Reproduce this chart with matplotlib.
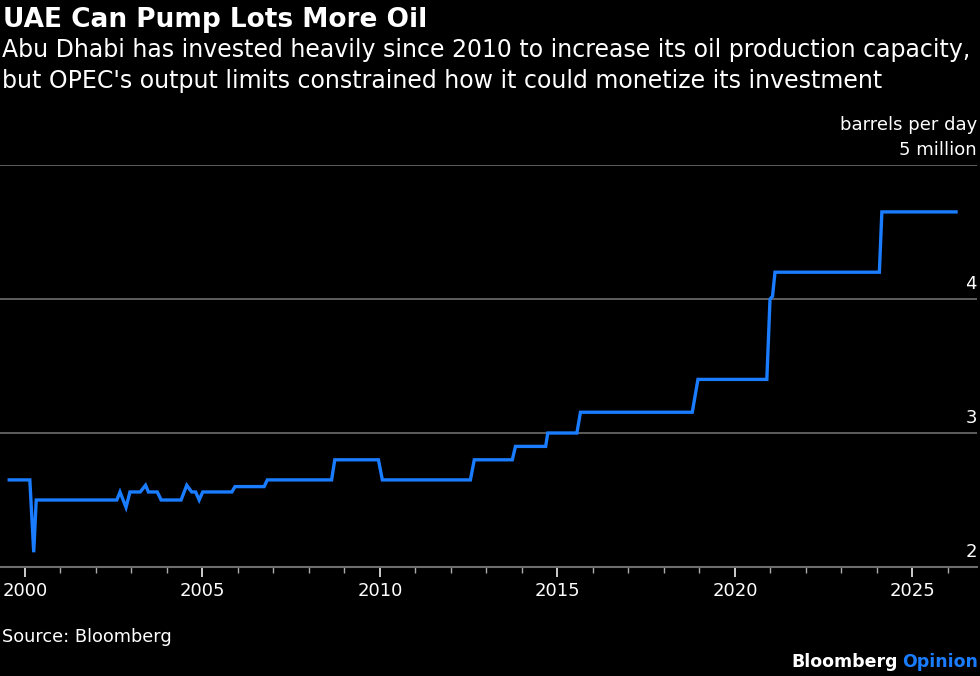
import matplotlib.pyplot as plt
import matplotlib.transforms as mtransforms
from matplotlib.ticker import MultipleLocator

# corner points of the capacity line (year, million barrels per day)
years = [1999.56, 2000.14, 2000.25, 2000.32, 2002.59, 2002.68, 2002.85, 2002.96,
         2003.25, 2003.40, 2003.48, 2003.73, 2003.84, 2004.40, 2004.56, 2004.70,
         2004.81, 2004.91, 2005.01, 2005.83, 2005.92, 2006.74, 2006.83, 2008.64,
         2008.73, 2009.96, 2010.07, 2012.55, 2012.66, 2013.73, 2013.82, 2014.67,
         2014.73, 2015.55, 2015.65, 2018.80, 2018.96, 2020.90, 2020.99, 2021.06,
         2021.13, 2024.07, 2024.14, 2026.23]
capacity = [2.65, 2.65, 2.11, 2.50, 2.50, 2.56, 2.445, 2.56,
            2.56, 2.61, 2.56, 2.56, 2.50, 2.50, 2.61, 2.56,
            2.56, 2.50, 2.56, 2.56, 2.60, 2.60, 2.65, 2.65,
            2.80, 2.80, 2.65, 2.65, 2.80, 2.80, 2.90, 2.90,
            3.00, 3.00, 3.155, 3.155, 3.40, 3.40, 4.00, 4.02,
            4.20, 4.20, 4.65, 4.65]

y_ticks = [2, 3, 4, 5]
y_labels = ['2', '3', '4', '5 million']
x_ticks = [2000, 2005, 2010, 2015, 2020, 2025]

BG = '#000000'
BLUE = '#1a7cff'
GRID = '#6e6e6e'
FONT = 'DejaVu Sans'

fig = plt.figure(figsize=(9.8, 6.76), dpi=100, facecolor=BG)
ax = fig.add_axes([0.0, 1 - 567 / 676, 977 / 980, (567 - 165) / 676])
ax.set_facecolor(BG)

ax.plot(years, capacity, color=BLUE, linewidth=2.4, solid_joinstyle='miter', zorder=3)

ax.set_xlim(1999.30, 2026.82)
ax.set_ylim(2, 5)

for s in ['top', 'left', 'right']:
    ax.spines[s].set_visible(False)
ax.spines['bottom'].set_color(GRID)
ax.spines['bottom'].set_linewidth(1.5)

ax.set_yticks(y_ticks)
ax.tick_params(axis='y', length=0, labelleft=False, labelright=False)
ax.yaxis.grid(True, color=GRID, linewidth=1.2)
ax.set_axisbelow(True)

# y labels sit just above the gridlines at the right edge
trans = mtransforms.blended_transform_factory(ax.transAxes, ax.transData)
for v, lab in zip(y_ticks, y_labels):
    ax.text(1.0, v, lab, transform=trans + mtransforms.ScaledTranslation(0, 4 / 72, fig.dpi_scale_trans),
            ha='right', va='bottom', color='white', fontsize=13, family=FONT)
ax.text(1.0, 5, 'barrels per day', transform=trans + mtransforms.ScaledTranslation(0, 22 / 72, fig.dpi_scale_trans),
        ha='right', va='bottom', color='white', fontsize=13, family=FONT)

ax.set_xticks(x_ticks)
ax.xaxis.set_minor_locator(MultipleLocator(1))
ax.tick_params(axis='x', which='major', length=7, width=1.3, color='#dddddd', labelcolor='white',
               labelsize=13, pad=4)
ax.tick_params(axis='x', which='minor', length=4, width=1.0, color='#aaaaaa')
for lbl in ax.get_xticklabels():
    lbl.set_family(FONT)

# titles
fig.text(0.003, 1 - 27 / 676, 'UAE Can Pump Lots More Oil', color='white', fontsize=19,
         fontweight='bold', family=FONT, ha='left', va='baseline')
fig.text(0.002, 1 - 57 / 676,
         "Abu Dhabi has invested heavily since 2010 to increase its oil production capacity,",
         color='white', fontsize=17, family=FONT, ha='left', va='baseline')
fig.text(0.002, 1 - 88 / 676,
         "but OPEC's output limits constrained how it could monetize its investment",
         color='white', fontsize=17, family=FONT, ha='left', va='baseline')

# footer
fig.text(0.002, 1 - 642 / 676, 'Source: Bloomberg', color='white', fontsize=12.8, family=FONT,
         ha='left', va='baseline')
t1 = fig.text(0.998, 1 - 667 / 676, 'Opinion', color=BLUE, fontsize=12.5, fontweight='bold',
              family=FONT, ha='right', va='baseline')
fig.canvas.draw()
bb = t1.get_window_extent()
fig.text(bb.x0 / fig.bbox.width - 0.004, 1 - 667 / 676, 'Bloomberg', color='white', fontsize=12.5,
         fontweight='bold', family=FONT, ha='right', va='baseline')

fig.savefig('out.png', dpi=100, facecolor=BG)
